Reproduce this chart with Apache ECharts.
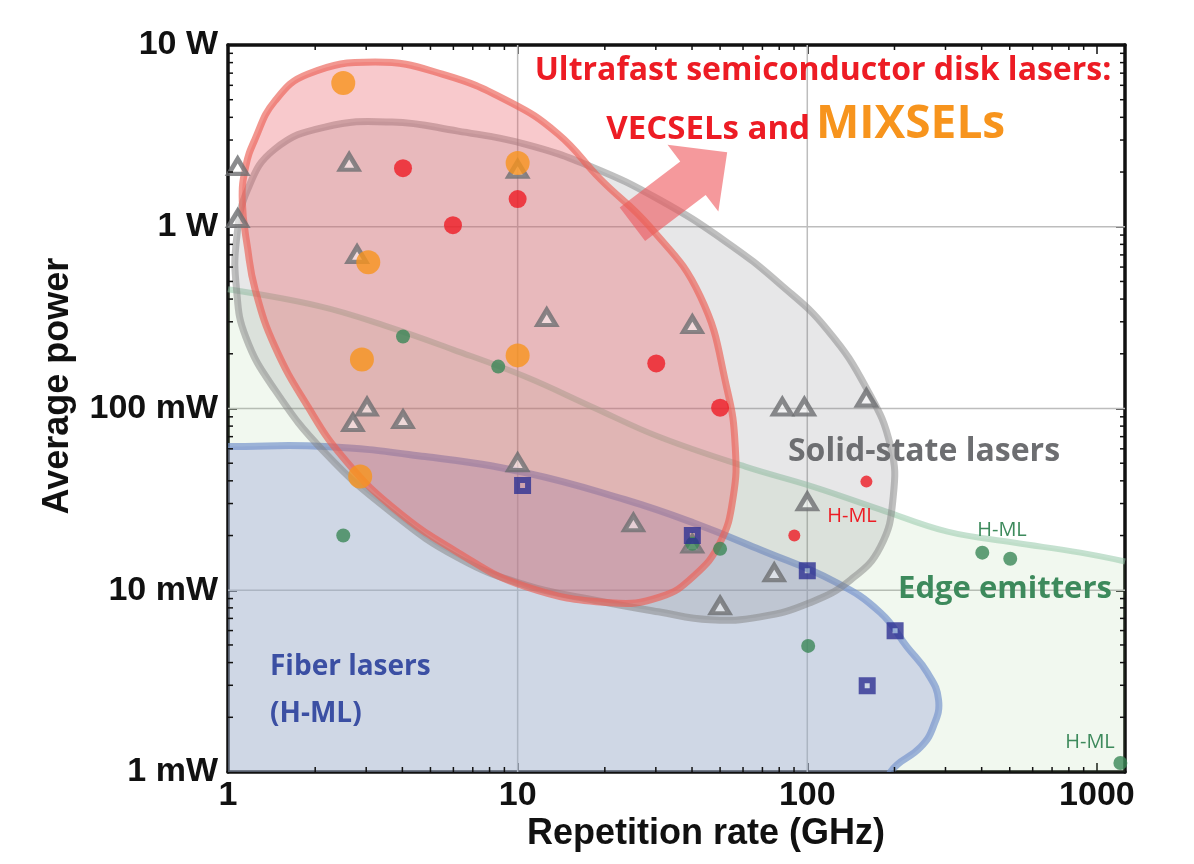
<!DOCTYPE html>
<html><head><meta charset="utf-8">
<script src="https://cdn.jsdelivr.net/npm/echarts@6/dist/echarts.min.js"></script>
<style>html,body{margin:0;padding:0;background:#fff}#c{width:1194px;height:864px}</style>
</head><body><div id="c"></div>
<script>
// ---------- axis ticks ----------
const xTickValues = [1, 10, 100, 1000];
const xTickLabels = ['1', '10', '100', '1000'];
const yTickValues = [1, 10, 100, 1000, 10000];           // mW
const yTickLabels = ['1 mW', '10 mW', '100 mW', '1 W', '10 W'];
const xMinorTicks = [2,3,4,5,6,7,8,9,20,30,40,50,60,70,80,90,200,300,400,500,600,700,800,900];
const yMinorTicks = [2,3,4,5,6,7,8,9,20,30,40,50,60,70,80,90,200,300,400,500,600,700,800,900,2000,3000,4000,5000,6000,7000,8000,9000];
const xGridValues = [10, 100];
const yGridValues = [10, 100, 1000];

// ---------- data points [GHz, mW] ----------
const mixsel = [[2.50,6180],[10.0,2240],[3.05,637],[2.90,186],[10.0,196],[2.86,42.2]];
const vecsel = [[4.02,2100],[10.0,1420],[5.98,1020],[30.1,177],[50.0,101]];
const vecselHML = [[160,39.6],[90.2,20.0]];
const solidState = [[1.08,2150],[1.08,1110],[2.62,2265],[10.0,2074],[2.79,705],[12.6,317],[40.1,290],
  [3.02,102],[2.70,83.7],[4.02,87.0],[10.0,50.4],[25.1,23.5],[40.1,18.0],[50.0,8.22],[82.0,102],
  [97.7,102],[160,114],[100,30.7],[76.9,12.5]];
const edgeEmitters = [[4.02,249],[8.57,170],[2.50,20.0],[50.0,16.9],[40.1,18.0],[100.7,4.94],[402,16.1],[502,14.9],[1205,1.12]];
const fiberLasers = [[10.4,37.7],[40.1,20.0],[100,12.8],[201,5.98],[161,2.98]];

// ---------- region outlines [GHz, mW] ----------
const sdlRegion = [[3.22,8050],[5.49,6920],[9.27,4910],[13.8,3235],[19.3,1828],[28.7,993],[42.7,414],[52.9,127],
  [56.4,61.8],[55.5,32.7],[50.0,18.3],[40.4,11.9],[31.1,9.2],[20.9,8.53],[10.6,10.5],[6.23,16.1],[3.68,28.8],
  [2.48,54.4],[1.89,102],[1.45,220],[1.24,453],[1.17,752],[1.12,1382],[1.15,2128],[1.24,3035],[1.45,4910],[1.89,6920]];
const solidRegion = [[3.68,3767],[6.23,3357],[10.6,2851],[18.1,2128],[30.6,1419],[52.1,832],[80.7,482],[117,272],
  [161,127],[194,61.8],[198,32.7],[179,17.4],[141,11.4],[102,8.53],[68.8,7.14],[46.2,6.88],[30.6,7.61],[18.1,8.87],
  [10.6,10.7],[6.23,15.1],[3.68,26.7],[2.16,57.2],[1.45,127],[1.15,249],[1.07,453],[1.07,853],[1.17,1610],[1.45,2673],[2.16,3532]];
const fiberRegion = [[0.7,61.8],[1,61.8],[2.16,61.8],[4.79,54.4],[10.6,44.4],[23.5,31.5],[40.4,23.5],[68.8,16.7],
  [125,11.1],[179,7.52],[221,4.88],[260,3.51],[284,2.49],[272,1.77],[246,1.37],[194,1],[185,0.7],[0.7,0.7]];
const edgeBoundary = [[1,453],[2.08,365],[3.54,283],[5.98,211],[10.6,150],[18.1,102],[30.6,70.1],[61.1,47.9],
  [105,37.1],[179,27.8],[305,21.0],[515,18.3],[877,16.1],[1250,14.4]];
const arrowTail = [24.9, 1033];
const arrowTip = [52.9, 2573];

const X_MIN = 1, X_MAX = 1250, Y_MIN = 1, Y_MAX = 10000;

function findLabel(v, vals, labels) {
  for (let i = 0; i < vals.length; i++) {
    if (Math.abs(Math.log10(v) - Math.log10(vals[i])) < 1e-6) return labels[i];
  }
  return '';
}
function clipRect(params) {
  const c = params.coordSys;
  return {type: 'rect', shape: {x: c.x, y: c.y, width: c.width, height: c.height}};
}
function regionSeries(name, points, style, z) {
  return {
    name: name, type: 'custom', coordinateSystem: 'cartesian2d', z: z, silent: true,
    data: [[1, 1]], clip: true,
    renderItem: function (params, api) {
      return {
        type: 'polygon',
        shape: {points: points.map(p => api.coord(p)), smooth: 0.45},
        style: style,
        clipPath: clipRect(params)
      };
    }
  };
}

const axisFont = {fontFamily: 'Liberation Sans', fontWeight: 'bold', fontSize: 34, color: '#111'};
const lineSt = {color: '#111', width: 3.5};

const option = {
  animation: false,
  backgroundColor: '#fff',
  grid: {left: 228, right: 69, top: 45, bottom: 92},
  xAxis: [
    {type: 'log', logBase: 10, min: X_MIN, max: X_MAX, position: 'bottom',
     axisLine: {show: true, lineStyle: lineSt},
     axisTick: {show: true, inside: true, length: 9, lineStyle: {color: '#111', width: 1.5}},
     splitLine: {show: false},
     axisLabel: Object.assign({margin: 7, formatter: v => findLabel(v, xTickValues, xTickLabels)}, axisFont)},
    {type: 'log', logBase: 10, min: X_MIN, max: X_MAX, position: 'top',
     axisLine: {show: true, lineStyle: lineSt},
     axisTick: {show: true, inside: true, length: 9, lineStyle: {color: '#111', width: 1.5}},
     splitLine: {show: false}, axisLabel: {show: false}}
  ],
  yAxis: [
    {type: 'log', logBase: 10, min: Y_MIN, max: Y_MAX, position: 'left',
     axisLine: {show: true, lineStyle: lineSt},
     axisTick: {show: true, inside: true, length: 9, lineStyle: {color: '#111', width: 1.5}},
     splitLine: {show: false},
     axisLabel: Object.assign({margin: 10, formatter: v => findLabel(v, yTickValues, yTickLabels)}, axisFont)},
    {type: 'log', logBase: 10, min: Y_MIN, max: Y_MAX, position: 'right',
     axisLine: {show: true, lineStyle: lineSt},
     axisTick: {show: true, inside: true, length: 9, lineStyle: {color: '#111', width: 1.5}},
     splitLine: {show: false}, axisLabel: {show: false}}
  ],
  series: [
    {
      name: 'Grid', type: 'custom', coordinateSystem: 'cartesian2d', z: 1, silent: true, data: [[1, 1]],
      renderItem: function (params, api) {
        const children = [];
        xGridValues.forEach(v => {
          const a = api.coord([v, Y_MIN]), b = api.coord([v, Y_MAX]);
          children.push({type: 'line', shape: {x1: a[0], y1: a[1], x2: b[0], y2: b[1]}, style: {stroke: '#bdbdbd', lineWidth: 1.5}});
        });
        yGridValues.forEach(v => {
          const a = api.coord([X_MIN, v]), b = api.coord([X_MAX, v]);
          children.push({type: 'line', shape: {x1: a[0], y1: a[1], x2: b[0], y2: b[1]}, style: {stroke: '#bdbdbd', lineWidth: 1.5}});
        });
        return {type: 'group', children: children};
      }
    },
    {
      name: 'Edge emitters region', type: 'line', z: 2, silent: true, data: edgeBoundary, smooth: 0.4,
      symbol: 'none', lineStyle: {color: 'rgba(150,200,170,0.55)', width: 6},
      areaStyle: {origin: 'start', color: 'rgba(120,190,100,0.15)'}
    },
    regionSeries('Fiber lasers region', fiberRegion, {fill: 'rgba(160,170,215,0.42)', stroke: 'rgba(120,150,205,0.7)', lineWidth: 7}, 3),
    regionSeries('Solid-state region', solidRegion, {fill: 'rgba(120,120,125,0.18)', stroke: 'rgba(130,130,130,0.5)', lineWidth: 7}, 4),
    {
      name: 'Arrow', type: 'custom', coordinateSystem: 'cartesian2d', z: 5, silent: true, data: [[1, 1]],
      renderItem: function (params, api) {
        const t = api.coord(arrowTail), h = api.coord(arrowTip);
        const dx = h[0] - t[0], dy = h[1] - t[1], L = Math.hypot(dx, dy);
        const ux = dx / L, uy = dy / L, nx = -uy, ny = ux;
        const sw = 21, hw = 42, hl = 43;
        const bx = h[0] - ux * hl, by = h[1] - uy * hl;
        const pts = [
          [t[0] + nx * sw, t[1] + ny * sw], [bx + nx * sw, by + ny * sw], [bx + nx * hw, by + ny * hw],
          [h[0], h[1]],
          [bx - nx * hw, by - ny * hw], [bx - nx * sw, by - ny * sw], [t[0] - nx * sw, t[1] - ny * sw]
        ];
        return {type: 'polygon', shape: {points: pts}, style: {fill: 'rgba(238,85,90,0.6)'}};
      }
    },
    regionSeries('Semiconductor disk region', sdlRegion, {fill: 'rgba(235,90,100,0.33)', stroke: 'rgba(235,95,85,0.65)', lineWidth: 7}, 6),
    {name: 'Solid-state lasers', type: 'scatter', z: 10, data: solidState, symbol: 'triangle', symbolSize: [18, 15],
     itemStyle: {color: 'rgba(255,255,255,0.6)', borderColor: '#6d6e71', borderWidth: 4.5}},
    {name: 'Edge emitters', type: 'scatter', z: 11, data: edgeEmitters, symbol: 'circle', symbolSize: 14,
     itemStyle: {color: '#3b8758'}},
    {name: 'VECSELs', type: 'scatter', z: 12, data: vecsel, symbol: 'circle', symbolSize: 18, itemStyle: {color: '#ed1c24'}},
    {name: 'VECSELs H-ML', type: 'scatter', z: 12, data: vecselHML, symbol: 'circle', symbolSize: 12, itemStyle: {color: '#ed1c24'}},
    {name: 'MIXSELs', type: 'scatter', z: 13, data: mixsel, symbol: 'circle', symbolSize: 24, itemStyle: {color: '#f7941d'}},
    {name: 'Fiber lasers', type: 'scatter', z: 14, data: fiberLasers, symbol: 'rect', symbolSize: 11,
     itemStyle: {color: 'rgba(0,0,0,0)', borderColor: '#2e3192', borderWidth: 6}},
    {
      name: 'Minor ticks', type: 'custom', coordinateSystem: 'cartesian2d', z: 20, silent: true, data: [[1, 1]],
      renderItem: function (params, api) {
        const children = [], st = {stroke: '#111', lineWidth: 1.5};
        xMinorTicks.forEach(v => {
          const b = api.coord([v, Y_MIN]), t = api.coord([v, Y_MAX]);
          children.push({type: 'line', shape: {x1: b[0], y1: b[1], x2: b[0], y2: b[1] - 5}, style: st});
          children.push({type: 'line', shape: {x1: t[0], y1: t[1], x2: t[0], y2: t[1] + 5}, style: st});
        });
        yMinorTicks.forEach(v => {
          const l = api.coord([X_MIN, v]), r = api.coord([X_MAX, v]);
          children.push({type: 'line', shape: {x1: l[0], y1: l[1], x2: l[0] + 5, y2: l[1]}, style: st});
          children.push({type: 'line', shape: {x1: r[0], y1: r[1], x2: r[0] - 5, y2: r[1]}, style: st});
        });
        return {type: 'group', children: children};
      }
    }
  ],
  graphic: [
    {type: 'text', x: 823, y: 71, z: 100, style: {text: 'Ultrafast semiconductor disk lasers:', fill: '#ed1c24', font: 'bold 32px "Open Sans"', align: 'center', verticalAlign: 'middle'}},
    {type: 'text', x: 810, y: 130, z: 100, style: {text: 'VECSELs and', fill: '#ed1c24', font: 'bold 33px "Open Sans"', align: 'right', verticalAlign: 'middle'}},
    {type: 'text', x: 816, y: 125, z: 100, style: {text: 'MIXSELs', fill: '#f7941d', font: 'bold 46px "Open Sans"', align: 'left', verticalAlign: 'middle'}},
    {type: 'text', x: 924, y: 452, z: 100, style: {text: 'Solid-state lasers', fill: '#6d6e71', font: 'bold 32px "Open Sans"', align: 'center', verticalAlign: 'middle'}},
    {type: 'text', x: 1005, y: 589, z: 100, style: {text: 'Edge emitters', fill: '#3d8a5c', font: 'bold 31px "Open Sans"', align: 'center', verticalAlign: 'middle'}},
    {type: 'text', x: 270, y: 667, z: 100, style: {text: 'Fiber lasers', fill: '#3b4fa3', font: 'bold 28px "Open Sans"', align: 'left', verticalAlign: 'middle'}},
    {type: 'text', x: 270, y: 714, z: 100, style: {text: '(H-ML)', fill: '#3b4fa3', font: 'bold 28px "Open Sans"', align: 'left', verticalAlign: 'middle'}},
    {type: 'text', x: 852, y: 516, z: 100, style: {text: 'H-ML', fill: '#ed1c24', font: '20px "Open Sans"', align: 'center', verticalAlign: 'middle'}},
    {type: 'text', x: 1002, y: 530, z: 100, style: {text: 'H-ML', fill: '#3d8a5c', font: '20px "Open Sans"', align: 'center', verticalAlign: 'middle'}},
    {type: 'text', x: 1090, y: 742, z: 100, style: {text: 'H-ML', fill: '#3d8a5c', font: '20px "Open Sans"', align: 'center', verticalAlign: 'middle'}},
    {type: 'text', x: 706, y: 834, z: 100, style: {text: 'Repetition rate (GHz)', fill: '#111', font: 'bold 36px "Liberation Sans"', align: 'center', verticalAlign: 'middle'}},
    {type: 'text', x: 58, y: 386, z: 100, rotation: Math.PI / 2, style: {text: 'Average power', fill: '#111', font: 'bold 36px "Liberation Sans"', align: 'center', verticalAlign: 'middle'}}
  ]
};
const chart = echarts.init(document.getElementById('c'));
chart.setOption(option);
</script>
</body></html>
